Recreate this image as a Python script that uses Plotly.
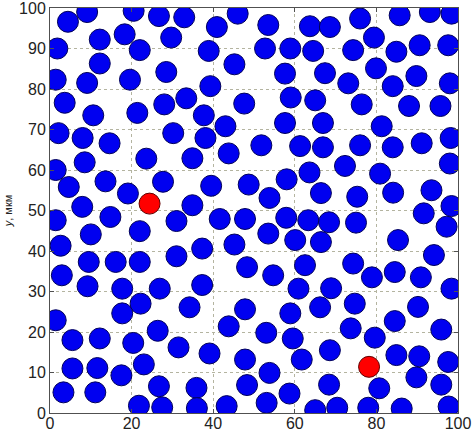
import plotly.graph_objects as go

# particle centres (µm)
blue_x = [
    4.4, 9.1, 20.5, 26.7, 32.9, 1.8, 12.2, 18.3, 22.0, 29.7,
    12.2, 1.4, 9.1, 19.6, 28.5, 3.6, 10.6, 21.4, 28.0, 33.4,
    2.1, 8.0, 14.6, 30.2, 40.9, 46.0, 53.5, 63.7, 68.6, 38.9,
    45.2, 52.7, 58.9, 64.5, 57.6, 67.4, 39.3, 47.6, 59.0, 65.0,
    37.7, 43.0, 57.6, 66.9, 38.1, 51.8, 61.3, 66.9, 76.0, 85.7,
    93.1, 98.4, 79.4, 74.3, 84.9, 90.6, 97.6, 79.9, 73.1, 84.0,
    89.8, 98.0, 76.4, 88.0, 95.7, 81.3, 76.0, 84.0, 91.1, 98.2,
    8.5, 23.6, 1.4, 13.6, 4.6, 27.7, 19.1, 7.9, 14.8, 1.4,
    31.0, 10.0, 22.0, 2.6, 9.5, 16.1, 22.0, 31.0, 2.9, 34.9,
    43.8, 39.5, 48.7, 58.0, 63.6, 66.4, 53.8, 34.9, 41.6, 47.8,
    57.9, 63.3, 68.4, 53.5, 60.1, 66.4, 37.3, 45.2, 48.3, 62.5,
    54.7, 37.3, 72.3, 80.9, 98.0, 75.3, 84.1, 93.5, 98.4, 75.0,
    91.6, 97.2, 85.3, 94.1, 74.3, 78.9, 84.5, 90.9, 9.2, 17.7,
    26.9, 22.2, 17.7, 34.2, 1.4, 26.4, 5.5, 12.2, 20.4, 31.5,
    5.5, 11.6, 23.0, 17.5, 3.3, 11.1, 26.7, 21.8, 27.5, 35.9,
    60.9, 68.9, 47.8, 58.9, 66.2, 43.8, 53.0, 59.5, 39.1, 47.8,
    61.7, 68.6, 53.8, 48.3, 58.7, 68.4, 36.0, 43.3, 53.1, 65.0,
    98.4, 74.7, 90.2, 84.5, 73.7, 95.9, 79.6, 84.9, 90.5, 97.6,
    80.7, 89.8, 95.9, 70.4, 78.0, 86.2, 97.7,
]
blue_y = [
    96.6, 99.0, 99.3, 98.0, 97.7, 90.0, 92.2, 93.5, 89.6, 92.7,
    86.3, 82.3, 81.5, 82.3, 84.2, 76.6, 73.5, 74.1, 76.2, 77.7,
    69.1, 67.9, 66.6, 69.1, 95.3, 98.6, 95.8, 95.5, 95.3, 89.4,
    86.1, 90.0, 90.0, 89.4, 83.8, 83.9, 80.7, 76.4, 77.9, 77.2,
    73.5, 70.8, 71.6, 71.6, 67.9, 66.1, 65.9, 65.6, 97.4, 98.2,
    99.0, 98.6, 92.7, 89.6, 89.2, 90.8, 90.8, 85.1, 81.4, 80.7,
    83.2, 81.4, 76.2, 75.8, 75.8, 70.8, 66.1, 65.6, 66.6, 67.9,
    61.9, 62.8, 60.0, 57.2, 55.8, 57.1, 54.2, 50.9, 48.4, 47.6,
    47.4, 44.1, 44.9, 41.3, 37.3, 37.3, 37.3, 38.7, 34.0, 62.9,
    64.1, 56.1, 56.4, 57.7, 59.4, 54.3, 53.1, 51.3, 47.9, 47.9,
    48.2, 47.6, 47.1, 44.3, 42.7, 42.2, 40.6, 41.6, 36.0, 36.5,
    34.0, 31.6, 61.0, 59.1, 61.6, 53.4, 54.4, 55.0, 51.1, 47.0,
    49.3, 46.0, 42.7, 39.0, 36.9, 33.5, 34.8, 33.5, 31.3, 30.7,
    30.7, 27.0, 24.6, 26.1, 22.9, 20.3, 18.0, 18.4, 17.3, 16.2,
    11.0, 11.1, 12.0, 9.3, 5.1, 5.1, 6.6, 1.8, 1.4, 6.2,
    30.7, 30.8, 25.6, 24.6, 26.1, 21.4, 19.8, 18.4, 14.7, 13.2,
    13.2, 15.5, 9.9, 6.9, 4.8, 7.0, 1.2, 1.7, 2.5, 0.7,
    30.7, 27.0, 26.2, 22.7, 20.9, 20.6, 18.6, 14.3, 14.0, 12.6,
    6.1, 8.8, 7.0, 1.3, 1.3, 1.1, 1.6,
]

red_x = [24.4, 78.2]
red_y = [51.7, 11.4]

x_ticks = [0, 20, 40, 60, 80, 100]
y_ticks = [0, 10, 20, 30, 40, 50, 60, 70, 80, 90, 100]

fig = go.Figure()

fig.add_trace(go.Scatter(
    x=blue_x, y=blue_y, mode="markers",
    marker=dict(size=21, color="#0000f0", line=dict(color="#00005a", width=1)),
    cliponaxis=True, hoverinfo="x+y",
))
fig.add_trace(go.Scatter(
    x=red_x, y=red_y, mode="markers",
    marker=dict(size=21, color="#ff0000", line=dict(color="#600000", width=1)),
    cliponaxis=True, hoverinfo="x+y",
))

axis_common = dict(
    showgrid=True, gridcolor="#b4b4a0", griddash="dot", gridwidth=1,
    zeroline=False, showline=True, mirror="ticks", linecolor="#505050", linewidth=1,
    ticks="inside", ticklen=4, tickcolor="#505050",
    tickfont=dict(family="Liberation Sans, Arial, sans-serif", size=16, color="#222"),
    ticklabeloverflow="allow",
    automargin=False,
)

fig.update_xaxes(range=[0, 100], tickvals=x_ticks, ticklabelstandoff=-4, **axis_common)
fig.update_yaxes(
    range=[0, 100], tickvals=y_ticks,
    title=dict(text="<i>y</i>, мкм", standoff=4,
               font=dict(family="Liberation Sans, Arial, sans-serif", size=11, color="#222")),
    **axis_common,
)

fig.update_layout(
    width=473, height=434,
    margin=dict(l=50, r=15, t=8, b=21),
    paper_bgcolor="white", plot_bgcolor="white",
    showlegend=False, template="none",
)

# drop the browser's default body margin so the figure sits at the page corner
fig.write_html("out.html", config={"displayModeBar": False},
               post_script="document.body.style.margin='0';")
